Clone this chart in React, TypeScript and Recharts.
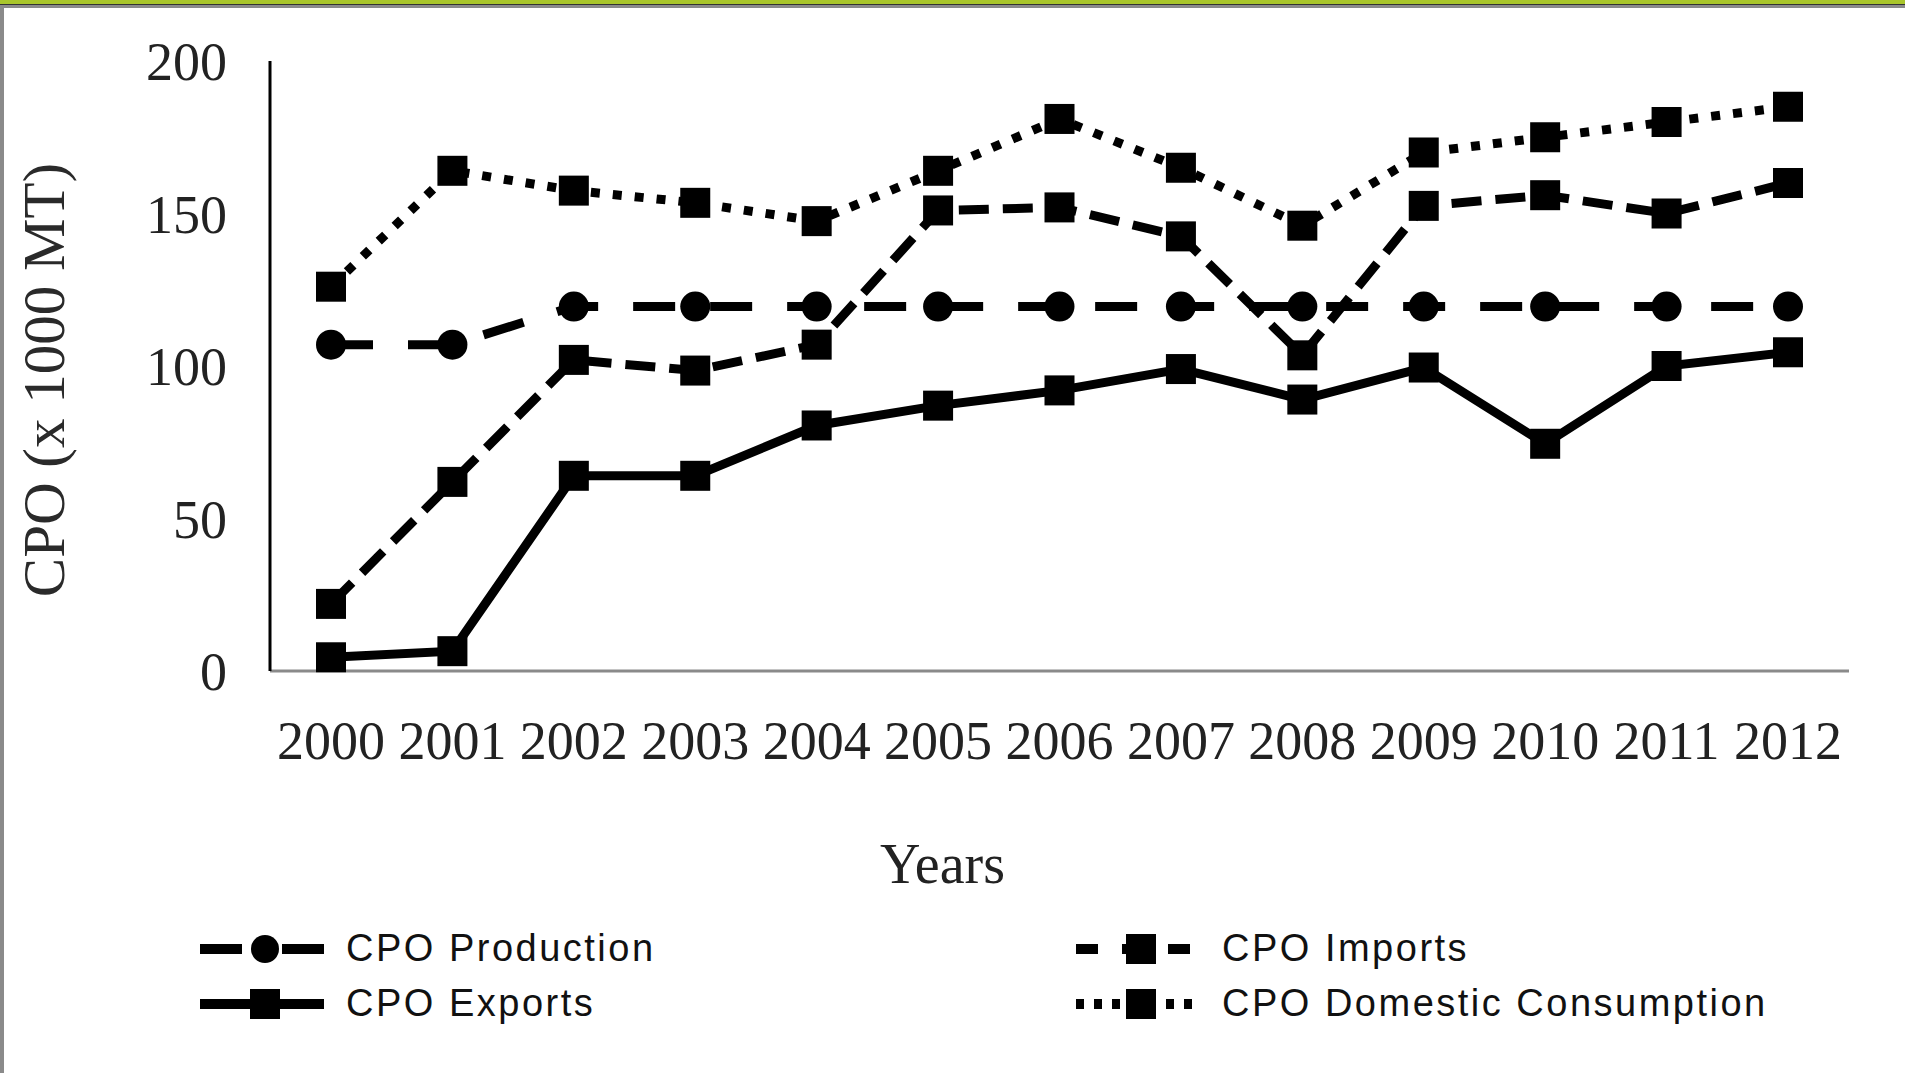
import React from "react"
import { LineChart, Line, XAxis, YAxis } from "recharts"

const YEARS = ["2000", "2001", "2002", "2003", "2004", "2005", "2006", "2007", "2008", "2009", "2010", "2011", "2012"]
const PRODUCTION = [107, 107, 119.5, 119.5, 119.5, 119.5, 119.5, 119.5, 119.5, 119.5, 119.5, 119.5, 119.5]
const IMPORTS = [22, 62, 102, 98.5, 107, 151, 152, 142.5, 103.5, 152.5, 156, 150, 160]
const EXPORTS = [4.5, 6.5, 64, 64, 80.5, 87, 92, 99, 89, 99.5, 74.5, 100, 104.5]
const DOMESTIC = [126, 164, 157.5, 153.5, 147.5, 164, 181, 165, 146, 170, 175, 180, 185]
const Y_TICKS = [0, 50, 100, 150, 200]

const data = YEARS.map((year, i) => ({
    year,
    production: PRODUCTION[i],
    imports: IMPORTS[i],
    exports: EXPORTS[i],
    domestic: DOMESTIC[i],
}))

// legend flows row by row: production, imports / exports, domestic
const SERIES = [
    { key: "production", name: "CPO Production", dash: "42 35", legendDash: "42 40", marker: "circle" },
    { key: "imports", name: "CPO Imports", dash: "30 14", legendDash: "22 24", marker: "square" },
    { key: "exports", name: "CPO Exports", dash: undefined, legendDash: undefined, marker: "square" },
    { key: "domestic", name: "CPO Domestic Consumption", dash: "9 13", legendDash: "8 10", marker: "square" },
]

const SERIF = "'Liberation Serif', 'Times New Roman', serif"
const SANS = "'Liberation Sans', Arial, sans-serif"

const SquareDot = (props: any) => {
    const { cx, cy, index } = props
    if (cx == null || cy == null) return <g key={`e-${index}`} />
    return <rect key={`sq-${index}`} x={cx - 15} y={cy - 15} width={30} height={30} fill="#000" />
}

const renderYLabel = ({ viewBox }: any) => {
    const cx = viewBox.x + 44
    const cy = viewBox.y + viewBox.height / 2 + 14
    return (
        <text
            x={cx}
            y={cy}
            transform={`rotate(-90 ${cx} ${cy})`}
            textAnchor="middle"
            dominantBaseline="central"
            fontFamily={SERIF}
            fontSize={59}
            fill="#2a2a2a"
        >
            CPO (x 1000 MT)
        </text>
    )
}

const renderXLabel = ({ viewBox }: any) => (
    <text
        x={viewBox.x + viewBox.width / 2 - 117}
        y={viewBox.y + 212}
        textAnchor="middle"
        fontFamily={SERIF}
        fontSize={56}
        fill="#222"
    >
        Years
    </text>
)

const LegendIcon = ({ dash, marker }: { dash?: string; marker: string }) => (
    <svg width={124} height={40} style={{ display: "block" }}>
        <line x1={0} y1={20} x2={124} y2={20} stroke="#000" strokeWidth={10} strokeDasharray={dash} />
        {marker === "circle" ? (
            <circle cx={65} cy={20} r={14} fill="#000" />
        ) : (
            <rect x={50} y={5} width={30} height={30} fill="#000" />
        )}
    </svg>
)

export default function App() {
    return (
        <div style={{ position: "absolute", left: 0, top: 0, width: 1905, height: 1073, background: "#fff" }}>
            <div style={{ position: "absolute", left: 0, top: 0, width: 1905, height: 4, background: "#a9c62b" }} />
            <div style={{ position: "absolute", left: 0, top: 4, width: 1905, height: 1, background: "#333" }} />
            <div style={{ position: "absolute", left: 0, top: 5, width: 1905, height: 3, background: "#8a8a8a" }} />
            <div style={{ position: "absolute", left: 0, top: 5, width: 4, height: 1068, background: "#8a8a8a" }} />

            <LineChart
                width={1905}
                height={1073}
                data={data}
                margin={{ top: 61, right: 56, left: 0, bottom: 152 }}
            >
                <XAxis
                    dataKey="year"
                    height={250}
                    interval={0}
                    padding={{ left: 61, right: 61 }}
                    axisLine={{ stroke: "#8a8a8a", strokeWidth: 3 }}
                    tickLine={false}
                    tickSize={0}
                    tickMargin={50}
                    tick={{ fontFamily: SERIF, fontSize: 54, fill: "#222" }}
                    label={{ content: renderXLabel }}
                />
                <YAxis
                    width={270}
                    domain={[0, 200]}
                    ticks={Y_TICKS}
                    axisLine={{ stroke: "#000", strokeWidth: 3 }}
                    tickLine={false}
                    tickSize={0}
                    tickMargin={43}
                    tick={{ fontFamily: SERIF, fontSize: 54, fill: "#222" }}
                    label={{ content: renderYLabel }}
                />
                {SERIES.map((s) => (
                    <Line
                        key={s.key}
                        dataKey={s.key}
                        name={s.name}
                        type="linear"
                        stroke="#000"
                        strokeWidth={9}
                        strokeDasharray={s.dash}
                        dot={
                            s.marker === "circle"
                                ? { r: 15, fill: "#000", stroke: "none", strokeWidth: 0 }
                                : (p: any) => <SquareDot {...p} />
                        }
                        activeDot={false}
                        isAnimationActive={false}
                    />
                ))}
            </LineChart>

            <div
                style={{
                    position: "absolute",
                    left: 200,
                    top: 921,
                    display: "grid",
                    gridTemplateColumns: "876px 700px",
                    gridAutoRows: "55px",
                }}
            >
                {SERIES.map((s) => (
                    <div key={s.key} style={{ display: "flex", alignItems: "center" }}>
                        <LegendIcon dash={s.legendDash} marker={s.marker} />
                        <span
                            style={{
                                marginLeft: 22,
                                fontFamily: SANS,
                                fontSize: 38,
                                letterSpacing: 2.5,
                                color: "#111",
                            }}
                        >
                            {s.name}
                        </span>
                    </div>
                ))}
            </div>
        </div>
    )
}
